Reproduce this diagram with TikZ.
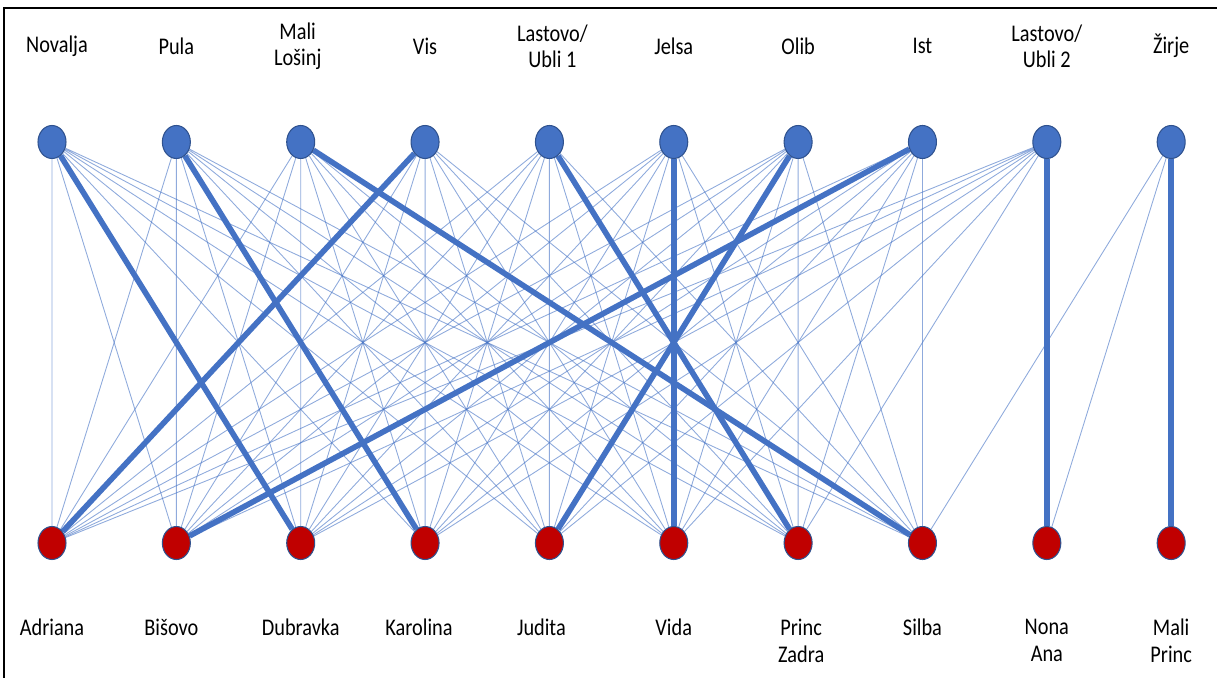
\documentclass[tikz,border=0pt]{standalone}
\usepackage{fontspec}
\setmainfont{Carlito}[FakeStretch=0.85]
\usetikzlibrary{positioning,shapes.geometric,backgrounds}
\definecolor{isblue}{HTML}{4472C4}
\definecolor{shred}{HTML}{C00000}
\definecolor{rimblue}{HTML}{2F528F}

\begin{document}
\begin{tikzpicture}[x=0.2mm,y=-0.2mm,font=\fontsize{13.6}{15}\selectfont,on grid,
  isl/.style={ellipse,draw=rimblue,line width=0.6pt,fill=isblue,minimum width=5.6mm,minimum height=6.6mm,inner sep=0pt},
  shp/.style={isl,fill=shred},
  nm/.style={align=center,inner sep=0pt},
  ln/.style={isblue,line width=0.5pt,opacity=0.6},
  mt/.style={isblue,line width=3.2pt}]
\useasboundingbox (0,0) rectangle (1217,678);
\draw[line width=0.8pt] (4,678) -- (4,8) -- (1217,8);
% islands
\node[isl](t1) at (52,142){};
\node[isl,right=24.87mm of t1](t2){};
\node[isl,right=24.87mm of t2](t3){};
\node[isl,right=24.87mm of t3](t4){};
\node[isl,right=24.87mm of t4](t5){};
\node[isl,right=24.87mm of t5](t6){};
\node[isl,right=24.87mm of t6](t7){};
\node[isl,right=24.87mm of t7](t8){};
\node[isl,right=24.87mm of t8](t9){};
\node[isl,right=24.87mm of t9](t10){};
\node[nm,above=19.2mm of t1,xshift=1mm](l1){Novalja};
\node[nm,above=19.2mm of t2](l2){Pula};
\node[nm,above=19.2mm of t3,xshift=-0.6mm](l3){Mali\\Lošinj};
\node[nm,above=19.2mm of t4](l4){Vis};
\node[nm,above=19.2mm of t5,xshift=0.6mm](l5){Lastovo/\\Ubli 1};
\node[nm,above=19.2mm of t6](l6){Jelsa};
\node[nm,above=19.2mm of t7](l7){Olib};
\node[nm,above=19.2mm of t8](l8){Ist};
\node[nm,above=19.2mm of t9](l9){Lastovo/\\Ubli 2};
\node[nm,above=19.2mm of t10](l10){Žirje};
% ships
\node[shp,below=80.2mm of t1](b1){};
\node[shp,below=80.2mm of t2](b2){};
\node[shp,below=80.2mm of t3](b3){};
\node[shp,below=80.2mm of t4](b4){};
\node[shp,below=80.2mm of t5](b5){};
\node[shp,below=80.2mm of t6](b6){};
\node[shp,below=80.2mm of t7](b7){};
\node[shp,below=80.2mm of t8](b8){};
\node[shp,below=80.2mm of t9](b9){};
\node[shp,below=80.2mm of t10](b10){};
\node[nm,below=15.2mm of b1,anchor=north](m1){Adriana};
\node[nm,below=15.2mm of b2,anchor=north,xshift=-1mm](m2){Bišovo};
\node[nm,below=15.2mm of b3,anchor=north](m3){Dubravka};
\node[nm,below=15.2mm of b4,anchor=north,xshift=-1.2mm](m4){Karolina};
\node[nm,below=15.2mm of b5,anchor=north,xshift=-1.6mm](m5){Judita};
\node[nm,below=15.2mm of b6,anchor=north](m6){Vida};
\node[nm,below=15.2mm of b7,anchor=north,xshift=0.6mm](m7){Princ\\Zadra};
\node[nm,below=15.2mm of b8,anchor=north](m8){Silba};
\node[nm,below=15.2mm of b9,anchor=north](m9){Nona\\Ana};
\node[nm,below=15.2mm of b10,anchor=north](m10){Mali\\Princ};
\begin{scope}[on background layer]
% possible pairs
\draw[ln](t1)--(b1) (t1)--(b2) (t1)--(b4) (t1)--(b5) (t1)--(b6) (t1)--(b7) (t1)--(b8);
\draw[ln](t2)--(b1) (t2)--(b2) (t2)--(b3) (t2)--(b5) (t2)--(b6) (t2)--(b7) (t2)--(b8);
\draw[ln](t3)--(b1) (t3)--(b2) (t3)--(b3) (t3)--(b4) (t3)--(b5) (t3)--(b6) (t3)--(b7);
\draw[ln](t4)--(b2) (t4)--(b3) (t4)--(b4) (t4)--(b5) (t4)--(b6) (t4)--(b7) (t4)--(b8);
\draw[ln](t5)--(b1) (t5)--(b2) (t5)--(b3) (t5)--(b4) (t5)--(b5) (t5)--(b6) (t5)--(b8);
\draw[ln](t6)--(b1) (t6)--(b2) (t6)--(b3) (t6)--(b4) (t6)--(b5) (t6)--(b7) (t6)--(b8);
\draw[ln](t7)--(b1) (t7)--(b2) (t7)--(b3) (t7)--(b4) (t7)--(b6) (t7)--(b7) (t7)--(b8);
\draw[ln](t8)--(b1) (t8)--(b3) (t8)--(b4) (t8)--(b5) (t8)--(b6) (t8)--(b7) (t8)--(b8);
\draw[ln](t9)--(b1) (t9)--(b2) (t9)--(b3) (t9)--(b4) (t9)--(b5) (t9)--(b6) (t9)--(b7);
\draw[ln](t10)--(b8) (t10)--(b9);
% chosen pairs
\draw[mt](t1)--(b3);\draw[mt](t2)--(b4);\draw[mt](t3)--(b8);
\draw[mt](t4)--(b1);\draw[mt](t5)--(b7);\draw[mt](t6)--(b6);
\draw[mt](t7)--(b5);\draw[mt](t8)--(b2);\draw[mt](t9)--(b9);
\draw[mt](t10)--(b10);
\end{scope}
\end{tikzpicture}
\end{document}
